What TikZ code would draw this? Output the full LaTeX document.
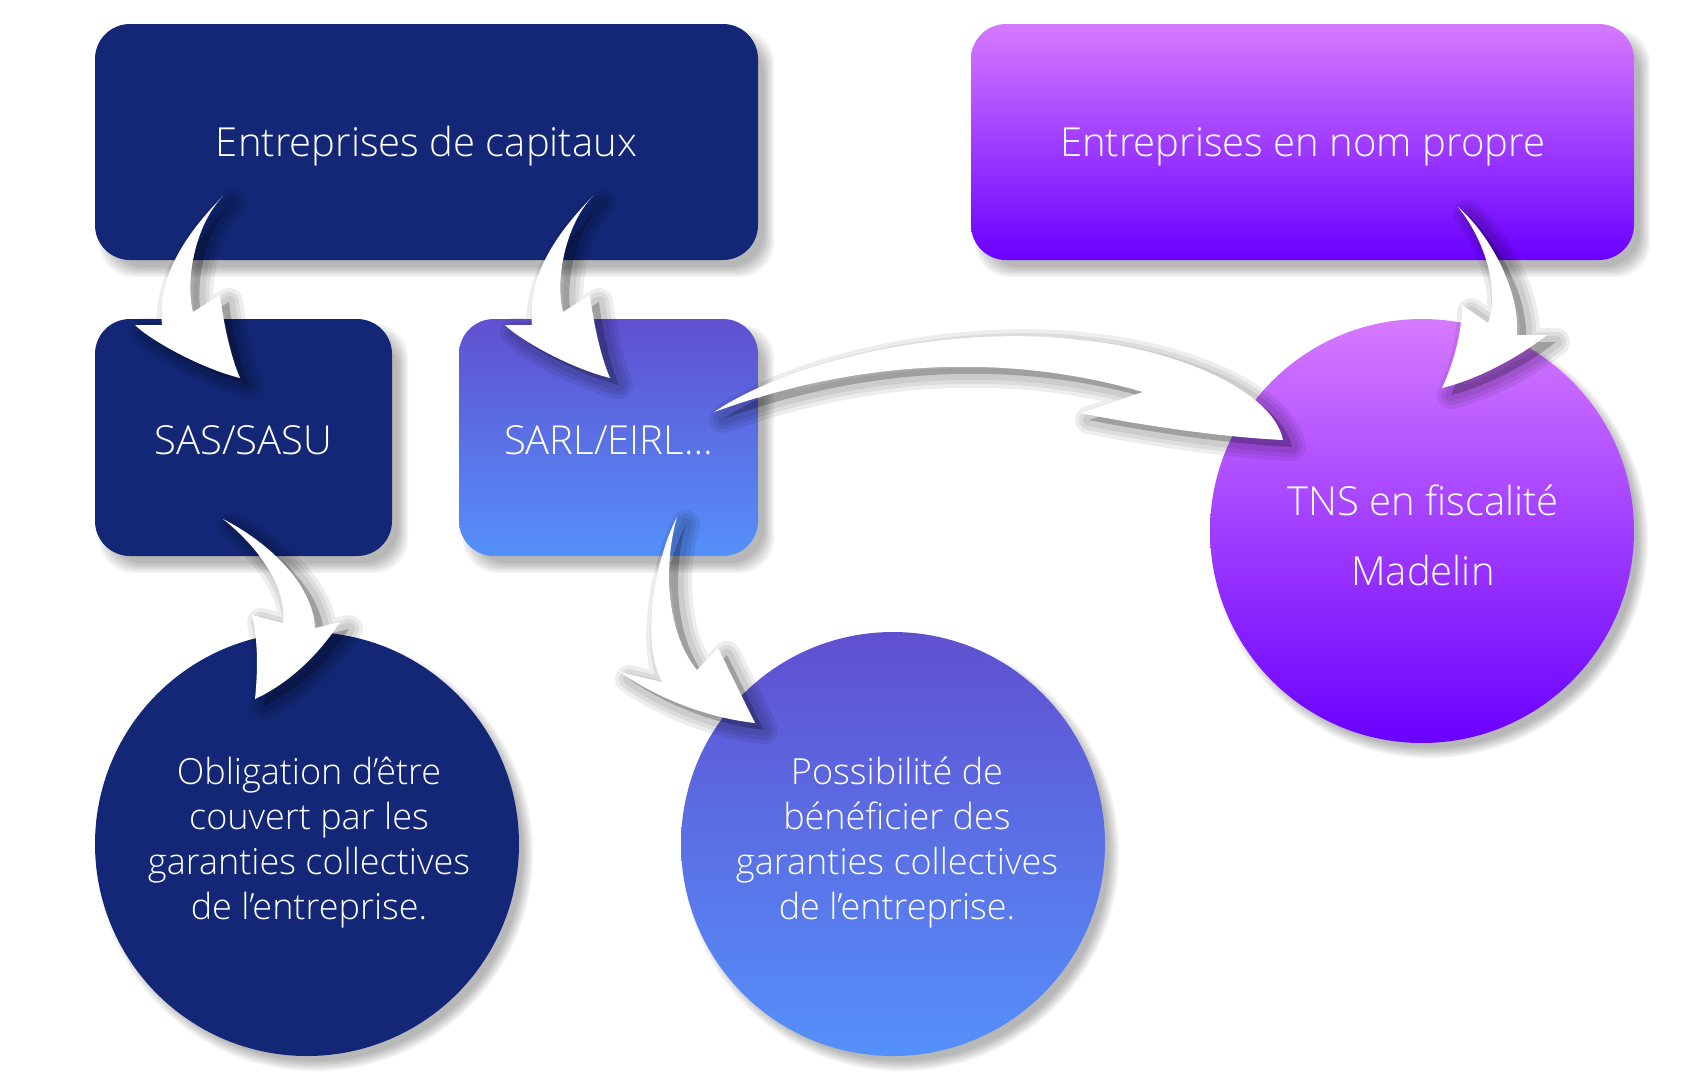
\documentclass[tikz,border=0pt]{standalone}
\usepackage{fontspec}
\IfFontExistsTF{Open Sans Light}{\setmainfont{Open Sans Light}}{\setmainfont{Open Sans}}
\definecolor{navy}{RGB}{19,39,118}
\definecolor{bluetop}{RGB}{96,80,208}
\definecolor{bluebot}{RGB}{85,144,250}
\definecolor{purptop}{RGB}{214,122,255}
\definecolor{purpbot}{RGB}{106,0,255}
\newcommand\rectshadow[4]{%
  \foreach \d in {6,4,2,0,-2,-4}{%
    \fill[black,opacity=0.05,rounded corners=35pt] ({#1+10-\d},{#2+11-\d}) rectangle ({#3+10+\d},{#4+11+\d});}}
\newcommand\circshadow[3]{%
  \foreach \d in {6,4,2,0,-2,-4}{%
    \pgfmathsetmacro\rr{#3+\d}
    \fill[black,opacity=0.05] ({#1+8},{#2+9}) circle[radius=\rr pt];}}
\newcommand\warrow[1]{%
  \begin{scope}[shift={(9,7)}]
    \foreach \w in {28,20,12}{\draw[black,opacity=0.07,line width=\w pt,line join=round] #1;}
    \fill[black,opacity=0.22] #1;
  \end{scope}
  \fill[white] #1;}
\tikzset{
  lbl/.style={text=white, align=center, inner sep=0pt},
  boxtext/.style={lbl, font=\fontsize{40}{47}\selectfont},
  circtext/.style={lbl, font=\fontsize{36}{45}\selectfont},
  boxbase/.style={rounded corners=35pt, inner sep=0pt},
  boxnavy/.style={boxbase, fill=navy},
  boxblue/.style={boxbase, top color=bluetop, bottom color=bluebot},
  boxpurp/.style={boxbase, top color=purptop, bottom color=purpbot},
  circ/.style={circle, inner sep=0pt, minimum size=424pt},
}
\begin{document}
\begin{tikzpicture}[x=1pt,y=-1pt]
\fill[white] (0,0) rectangle (1686,1080);
\useasboundingbox (0,0) rectangle (1686,1080);
% shadows of boxes and circles
\rectshadow{95}{24}{758}{260}
\rectshadow{971}{24}{1634}{260}
\rectshadow{95}{319}{392}{556}
\rectshadow{459}{319}{758}{556}
\circshadow{307}{844}{212}
\circshadow{893}{844}{212}
\circshadow{1422}{531}{212}
% boxes
\node[boxnavy, minimum width=663pt, minimum height=236pt] (capitaux) at (426.5,142) {};
\node[boxpurp, minimum width=663pt, minimum height=236pt] (nompropre) at (1302.5,142) {};
\node[boxnavy, minimum width=297pt, minimum height=237pt] (sas) at (243.5,437.5) {};
\node[boxblue, minimum width=299pt, minimum height=237pt] (sarl) at (608.5,437.5) {};
\node[boxtext] (capitauxT) at (426.5,146.5) {Entreprises de capitaux};
\node[boxtext] (nompropreT) at (1302.5,146.5) {Entreprises en nom propre};
\node[boxtext] (sasT) at (243.5,440) {SAS/SASU};
\node[boxtext] (sarlT) at (608.5,440) {SARL/EIRL…};
% circles
\node[circ, fill=navy] (oblig) at (307,844) {};
\node[circ, top color=bluetop, bottom color=bluebot] (possib) at (893,844) {};
\node[circ, top color=purptop, bottom color=purpbot] (tns) at (1422,531) {};
\node[circtext] (obligT) at (309,843) {Obligation d’être\\couvert par les\\garanties collectives\\de l’entreprise.};
\node[circtext] (possibT) at (897,843) {Possibilité de\\bénéficier des\\garanties collectives\\de l’entreprise.};
\node[boxtext, font=\fontsize{40}{70}\selectfont] (tnsT) at (1423,535) {TNS en fiscalité\\Madelin};
% curved block arrows
\warrow{(223,196) .. controls (180,240) and (158,280) .. (162,325) -- (135,325) .. controls (150,340) and (200,368) .. (240,378) .. controls (230,355) and (223,320) .. (220,295) -- (193,312) .. controls (185,280) and (195,225) .. (223,196) -- cycle}
\begin{scope}[shift={(370,0)}]
\warrow{(223,196) .. controls (180,240) and (158,280) .. (162,325) -- (135,325) .. controls (150,340) and (200,368) .. (240,378) .. controls (230,355) and (223,320) .. (220,295) -- (193,312) .. controls (185,280) and (195,225) .. (223,196) -- cycle}
\end{scope}
\warrow{(223,519) .. controls (270,543) and (313,585) .. (315,628) -- (340,622) .. controls (315,660) and (285,685) .. (255,699) .. controls (258,670) and (258,640) .. (252,615) -- (283,623) .. controls (287,590) and (262,550) .. (223,519) -- cycle}
\warrow{(677,517) .. controls (655,560) and (640,640) .. (662,682) -- (620,672) .. controls (660,700) and (710,718) .. (755,723) -- (718,648) -- (697,670) .. controls (668,635) and (662,570) .. (677,517) -- cycle}
\warrow{(714,412) .. controls (800,355) and (960,325) .. (1080,340) .. controls (1170,348) and (1272,388) .. (1283,440) .. controls (1220,437) and (1140,425) .. (1080,413) -- (1143,392) .. controls (1050,365) and (900,345) .. (714,412) -- cycle}
\warrow{(1458,207) .. controls (1490,235) and (1520,290) .. (1517,335) -- (1547,335) .. controls (1515,360) and (1475,380) .. (1442,388) .. controls (1455,360) and (1462,330) .. (1462,305) -- (1488,323) .. controls (1500,290) and (1485,240) .. (1458,207) -- cycle}
\end{tikzpicture}
\end{document}
